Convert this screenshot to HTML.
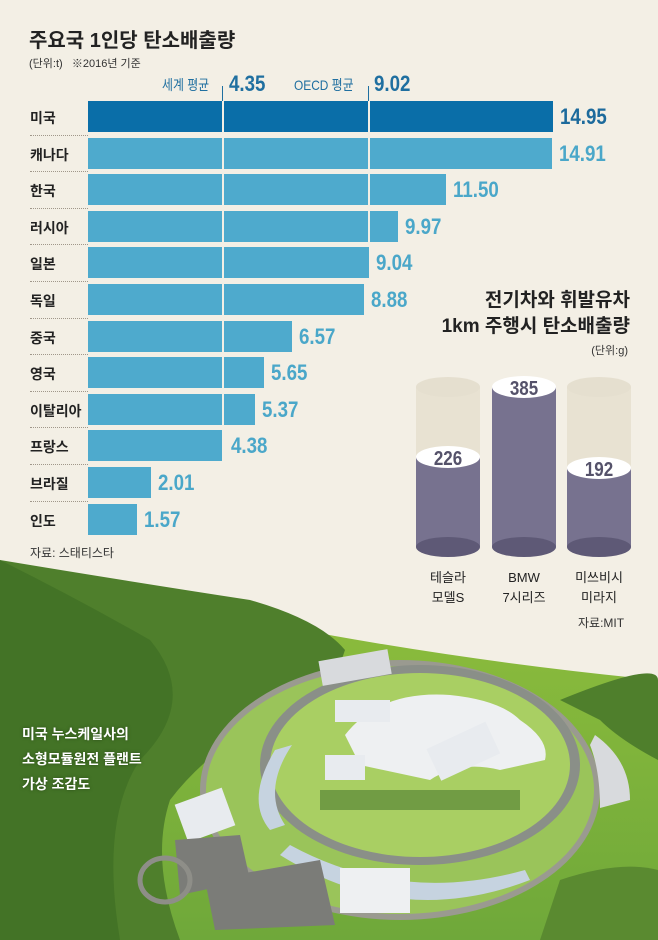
<!DOCTYPE html>
<html><head><meta charset="utf-8"><style>
*{margin:0;padding:0;box-sizing:border-box}
body{width:658px;height:940px;background:#f3efe5;position:relative;overflow:hidden;font-family:"Liberation Sans","Noto Sans CJK KR",sans-serif}
.a{position:absolute;white-space:nowrap}
.lab{left:30px;font-size:14px;font-weight:bold;color:#222}
.bar{left:88px;height:31px;background:#4eaacd}
.val{font-size:22px;font-weight:bold;color:#4aa7c9;transform:scaleX(.85);transform-origin:left}
.sep{border-top:1px dotted #a0978a;left:30px;width:58px}
</style></head><body>
<svg class="a" style="left:0;top:540px" width="658" height="400" viewBox="0 540 658 400">
<defs><linearGradient id="gr" x1="0" y1="0" x2="0" y2="1"><stop offset="0" stop-color="#8dbd3c"/><stop offset="1" stop-color="#6fa83a"/></linearGradient></defs>
<rect x="0" y="540" width="658" height="400" fill="#f3efe5"/>
<path d="M250 620 Q450 660 658 680 L658 940 L0 940 L0 600 Z" fill="url(#gr)"/>
<path d="M0 560 Q120 580 250 600 Q320 620 345 650 Q330 700 260 720 Q200 760 170 800 Q150 860 180 940 L0 940 Z" fill="#4f7f2c"/>
<path d="M0 560 Q80 600 150 640 Q200 700 140 760 Q100 820 120 940 L0 940Z" fill="#3f6e24" opacity=".7"/>
<path d="M560 700 Q658 660 658 680 L658 760 Q620 740 600 720Z" fill="#4f7f2c"/>
<path d="M560 880 Q620 860 658 870 L658 940 L540 940Z" fill="#5a8a30"/>
<ellipse cx="400" cy="790" rx="200" ry="130" fill="#9a9a90"/>
<ellipse cx="400" cy="790" rx="194" ry="124" fill="#9ac45a"/>
<ellipse cx="420" cy="765" rx="160" ry="100" fill="#8a8f88"/>
<ellipse cx="420" cy="765" rx="150" ry="92" fill="#a9cf63"/>
<path d="M275 750 Q245 800 270 830 L285 825 Q262 790 292 745Z" fill="#c6d3e0"/>
<path d="M280 855 Q400 930 530 880 L525 870 Q400 905 290 845Z" fill="#c6d3e0"/>
<rect x="320" y="790" width="200" height="20" fill="#4d7a30" opacity=".6"/>
<path d="M345 735 Q380 690 450 695 Q500 700 520 720 Q550 740 545 760 L500 770 Q460 760 430 780 L360 765Z" fill="#eef0f2"/>
<rect x="430" y="735" width="65" height="35" fill="#e8ebef" transform="rotate(-25 460 750)"/>
<rect x="335" y="700" width="55" height="22" fill="#e8ebef"/>
<rect x="325" y="755" width="40" height="25" fill="#e8ebef"/>
<rect x="340" y="868" width="70" height="45" fill="#eef0f2"/>
<rect x="180" y="795" width="50" height="40" fill="#e8ebef" transform="rotate(-20 205 815)"/>
<path d="M595 735 Q630 760 630 800 L600 808 Q600 770 590 745Z" fill="#d8dadd"/>
<rect x="320" y="655" width="70" height="25" fill="#d8dadd" transform="rotate(-10 355 667)"/>
<path d="M175 840 L240 835 L250 880 L180 895Z" fill="#7b7c78"/>
<path d="M205 880 L320 860 L335 925 L215 930Z" fill="#7b7c78"/>
<ellipse cx="165" cy="880" rx="25" ry="22" fill="none" stroke="#8e8e88" stroke-width="5"/>
</svg>
<div class="a" style="left:29px;top:24px;font-size:20px;font-weight:bold;color:#222">주요국 1인당 탄소배출량</div>
<div class="a" style="left:29px;top:55px;font-size:11px;color:#333">(단위:t)&nbsp;&nbsp;&nbsp;※2016년 기준</div>
<div class="a" style="left:162px;top:75px;font-size:14px;color:#1f6fa0;transform:scaleX(.85);transform-origin:left">세계 평균</div>
<div class="a" style="left:229px;top:71px;font-size:22px;font-weight:bold;color:#1f6fa0;transform:scaleX(.85);transform-origin:left">4.35</div>
<div class="a" style="left:294px;top:75px;font-size:14px;color:#1f6fa0;transform:scaleX(.85);transform-origin:left">OECD 평균</div>
<div class="a" style="left:374px;top:71px;font-size:22px;font-weight:bold;color:#1f6fa0;transform:scaleX(.85);transform-origin:left">9.02</div>
<div class="a" style="left:222px;top:86px;width:1px;height:16px;background:#1f6fa0"></div>
<div class="a" style="left:368px;top:86px;width:1px;height:16px;background:#1f6fa0"></div>
<div id="rows"></div>
<div class="a" style="left:30px;top:544px;font-size:12px;color:#333">자료: 스태티스타</div>
<div class="a" style="right:28px;top:288px;font-size:19px;font-weight:bold;color:#222;text-align:right;line-height:26px">전기차와 휘발유차<br>1km 주행시 탄소배출량</div>
<div class="a" style="right:30px;top:342px;font-size:11px;color:#333">(단위:g)</div>
<svg class="a" style="left:400px;top:360px" width="258" height="200" viewBox="400 360 258 200">
<g id="cyl"></g>
</svg>
<div class="a" style="left:420px;top:568px;width:56px;text-align:center;font-size:13px;color:#222;line-height:20px">테슬라<br>모델S</div>
<div class="a" style="left:496px;top:568px;width:56px;text-align:center;font-size:13px;color:#222;line-height:20px">BMW<br>7시리즈</div>
<div class="a" style="left:571px;top:568px;width:56px;text-align:center;font-size:13px;color:#222;line-height:20px">미쓰비시<br>미라지</div>
<div class="a" style="left:578px;top:614px;font-size:12px;color:#333">자료:MIT</div>
<div class="a" style="left:22px;top:722px;font-size:14px;font-weight:bold;color:#fff;line-height:25px;text-shadow:0 0 3px #2a4a18">미국 누스케일사의<br>소형모듈원전 플랜트<br>가상 조감도</div>
<script>
var d=[["미국",14.95],["캐나다",14.91],["한국",11.5],["러시아",9.97],["일본",9.04],["독일",8.88],["중국",6.57],["영국",5.65],["이탈리아",5.37],["프랑스",4.38],["브라질",2.01],["인도",1.57]];
var h="";d.forEach(function(r,i){var t=101+i*36.6,w=r[1]*31.1;
h+='<div class="a lab" style="top:'+(t+7)+'px">'+r[0]+'</div>';
h+='<div class="a bar" style="top:'+t+'px;width:'+w+'px;'+(i==0?'background:#0a6ea8':'')+'"></div>';
if(w>136)h+='<div class="a" style="left:222px;top:'+t+'px;width:2px;height:31px;background:#f3efe5"></div>';
if(w>282)h+='<div class="a" style="left:368px;top:'+t+'px;width:2px;height:31px;background:#f3efe5"></div>';
h+='<div class="a val" style="left:'+(88+w+7)+'px;top:'+(t+3)+'px;'+(i==0?'color:#1c6a9c':'')+'">'+r[1].toFixed(2)+'</div>';
if(i>0)h+='<div class="a sep" style="top:'+(t-3)+'px"></div>';});
document.getElementById("rows").innerHTML=h;
var c=[[448,457,"226"],[524,387,"385"],[599,468,"192"]],s="";
c.forEach(function(q){var x=q[0],r=32,b=547;
if(q[2]!="385"){s+='<rect x="'+(x-r)+'" y="387" width="'+(2*r)+'" height="'+(q[1]-387)+'" fill="#e8e2d2"/><ellipse cx="'+x+'" cy="387" rx="'+r+'" ry="10" fill="#e5dfcf"/>';}
s+='<rect x="'+(x-r)+'" y="'+q[1]+'" width="'+(2*r)+'" height="'+(b-q[1])+'" fill="#77728f"/>';
s+='<ellipse cx="'+x+'" cy="'+b+'" rx="'+r+'" ry="10" fill="#5e5976"/>';
s+='<ellipse cx="'+x+'" cy="'+q[1]+'" rx="'+r+'" ry="11" fill="#fff"/>';
s+='<text x="'+x+'" y="'+(q[1]+8)+'" text-anchor="middle" font-family="Liberation Sans" font-weight="bold" font-size="20" fill="#55526a" transform="translate('+x+' 0) scale(.85 1) translate('+(-x)+' 0)">'+q[2]+'</text>';});
document.getElementById("cyl").innerHTML=s;
</script>
</body></html>
